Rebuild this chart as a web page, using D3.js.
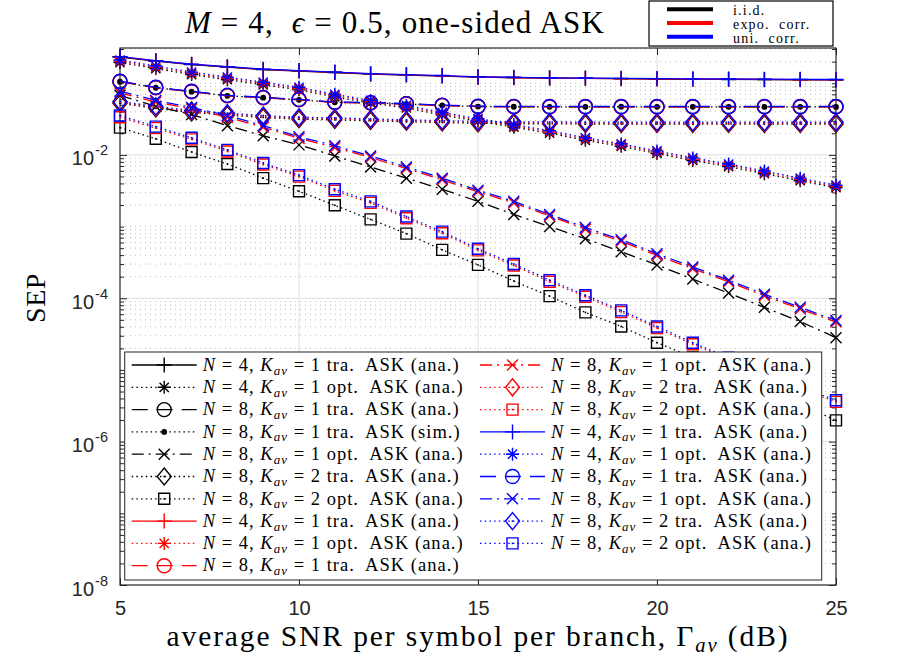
<!DOCTYPE html>
<html>
<head>
<meta charset="utf-8">
<script src="https://cdn.jsdelivr.net/npm/d3@7"></script>
<style>
  html, body { margin: 0; padding: 0; background: #fff; }
  svg { display: block; }
  .serif { font-family: "Liberation Serif", "DejaVu Serif", serif; fill: #000; white-space: pre; }
  .tick-label { font-family: "Liberation Sans", Arial, sans-serif; fill: #262626; }
</style>
</head>
<body>
<div id="chart"></div>
<script>
const snr = [5, 6, 7, 8, 9, 10, 11, 12, 13, 14, 15, 16, 17, 18, 19, 20, 21, 22, 23, 24, 25];
const xTicks = [5, 10, 15, 20, 25];
const yTicks = [1e-8, 1e-6, 1e-4, 1e-2];

// i.i.d. branches (black)
const iidTra4 = [0.232, 0.204, 0.182, 0.168, 0.155, 0.148, 0.141, 0.134, 0.130, 0.126, 0.1215, 0.1196, 0.1178, 0.1167, 0.1157, 0.1143, 0.1135, 0.1128, 0.1122, 0.1116, 0.111];
const iidOpt4 = [0.194, 0.160, 0.132, 0.1118, 0.0950, 0.0808, 0.0644, 0.0530, 0.0451, 0.0360, 0.0295, 0.0244, 0.0201, 0.01596, 0.01316, 0.01047, 0.00835, 0.00687, 0.00547, 0.00436, 0.00348];
const iidTra8 = [0.1055, 0.0870, 0.0765, 0.0672, 0.0630, 0.0590, 0.0542, 0.0532, 0.0516, 0.0491, 0.0474, 0.0471, 0.0470, 0.0470, 0.0470, 0.0470, 0.0470, 0.0470, 0.0470, 0.0470, 0.0470];
const iidSim8 = [0.1048, 0.0865, 0.0762, 0.0668, 0.0628, 0.0587, 0.0541, 0.0530, 0.0514, 0.0490, 0.0473, 0.0470, 0.0469, 0.0469, 0.0470, 0.0468, 0.0469, 0.0468, 0.0467, 0.0468, 0.0467];
const iidOpt8 = [0.0678, 0.0475, 0.0366, 0.0256, 0.0185, 0.0138, 0.00968, 0.00678, 0.00474, 0.00332, 0.00225, 0.00148, 0.00100, 0.000678, 0.000445, 0.000292, 0.000185, 0.000118, 7.47e-5, 4.74e-5, 2.82e-5];
const iidTra8K2 = [0.0525, 0.0447, 0.0392, 0.0359, 0.0333, 0.0315, 0.0309, 0.0299, 0.0290, 0.0283, 0.0276, 0.0273, 0.0271, 0.0270, 0.0270, 0.0270, 0.0270, 0.0270, 0.0270, 0.0270, 0.0270];
const iidOpt8K2 = [0.0240, 0.0168, 0.0110, 0.00747, 0.00474, 0.00311, 0.00198, 0.00126, 0.000797, 0.000474, 0.000292, 0.000174, 0.000107, 6.35e-5, 4.04e-5, 2.40e-5, 1.50e-5, 9.37e-6, 5.58e-6, 3.32e-6, 1.98e-6];

// exponential correlation (red)
const expoTra4 = [0.233, 0.205, 0.183, 0.169, 0.156, 0.149, 0.142, 0.135, 0.131, 0.127, 0.122, 0.120, 0.118, 0.117, 0.116, 0.115, 0.114, 0.1135, 0.113, 0.1124, 0.1118];
const expoOpt4 = [0.203, 0.167, 0.137, 0.1166, 0.0992, 0.0843, 0.0672, 0.0553, 0.0470, 0.0375, 0.0308, 0.0254, 0.0209, 0.01666, 0.01373, 0.01092, 0.00872, 0.00717, 0.00571, 0.00455, 0.00363];
const expoTra8 = [0.1052, 0.0866, 0.0760, 0.0668, 0.0626, 0.0587, 0.0538, 0.0528, 0.0512, 0.0488, 0.0471, 0.0468, 0.0467, 0.0467, 0.0467, 0.0467, 0.0467, 0.0467, 0.0467, 0.0467, 0.0467];
const expoOpt8 = [0.0733, 0.0547, 0.0436, 0.0336, 0.0243, 0.0170, 0.0127, 0.00920, 0.00644, 0.00450, 0.00305, 0.00214, 0.00141, 0.000920, 0.000623, 0.000396, 0.000259, 0.000170, 0.000108, 7.10e-5, 4.66e-5];
const expoTra8K2 = [0.0541, 0.0461, 0.0404, 0.0371, 0.0343, 0.0325, 0.0319, 0.0308, 0.0299, 0.0292, 0.0285, 0.0281, 0.0279, 0.0278, 0.0278, 0.0278, 0.0278, 0.0278, 0.0278, 0.0278, 0.0278];
const expoOpt8K2 = [0.0336, 0.0236, 0.01648, 0.01117, 0.00733, 0.00497, 0.00315, 0.00214, 0.00131, 0.000808, 0.000466, 0.000286, 0.000170, 0.000105, 6.44e-5, 3.84e-5, 2.28e-5, 1.41e-5, 8.62e-6, 5.47e-6, 3.59e-6];

// uniform correlation (blue)
const uniTra4 = [0.235, 0.206, 0.184, 0.170, 0.157, 0.150, 0.143, 0.136, 0.132, 0.128, 0.123, 0.121, 0.119, 0.118, 0.117, 0.116, 0.1152, 0.1145, 0.1138, 0.1132, 0.1127];
const uniOpt4 = [0.211, 0.174, 0.143, 0.1215, 0.1033, 0.0878, 0.0700, 0.0576, 0.0490, 0.0391, 0.0321, 0.0265, 0.0218, 0.01735, 0.0143, 0.01138, 0.00908, 0.00747, 0.00595, 0.00474, 0.00378];
const uniTra8 = [0.1067, 0.0878, 0.0771, 0.0678, 0.0635, 0.0595, 0.0546, 0.0536, 0.0520, 0.0495, 0.0478, 0.0475, 0.0474, 0.0474, 0.0474, 0.0474, 0.0474, 0.0474, 0.0474, 0.0474, 0.0474];
const uniOpt8 = [0.0772, 0.0576, 0.0459, 0.0354, 0.0256, 0.0179, 0.0134, 0.00968, 0.00678, 0.00474, 0.00321, 0.00225, 0.00148, 0.000968, 0.000656, 0.000417, 0.000273, 0.000179, 0.000114, 7.47e-5, 4.90e-5];
const uniTra8K2 = [0.0558, 0.0475, 0.0417, 0.0382, 0.0354, 0.0335, 0.0329, 0.0318, 0.0308, 0.0301, 0.0294, 0.0290, 0.0288, 0.0287, 0.0287, 0.0287, 0.0287, 0.0287, 0.0287, 0.0287, 0.0287];
const uniOpt8K2 = [0.0354, 0.0248, 0.01735, 0.01176, 0.00772, 0.00523, 0.00332, 0.00225, 0.00138, 0.00085, 0.00049, 0.000301, 0.000179, 0.00011, 6.78e-5, 4.04e-5, 2.40e-5, 1.48e-5, 9.07e-6, 5.76e-6, 3.78e-6];

const corrLabels = ["i.i.d.", "expo. corr.", "uni. corr."];
const schemeLabels = {
  tra4: "N = 4, K_av = 1 tra.  ASK (ana.)",
  opt4: "N = 4, K_av = 1 opt.  ASK (ana.)",
  tra8: "N = 8, K_av = 1 tra.  ASK (ana.)",
  sim8: "N = 8, K_av = 1 tra.  ASK (sim.)",
  opt8: "N = 8, K_av = 1 opt.  ASK (ana.)",
  tra8k2: "N = 8, K_av = 2 tra.  ASK (ana.)",
  opt8k2: "N = 8, K_av = 2 opt.  ASK (ana.)",
};

// plotting order = legend order
const seriesList = [
  ["iid", "tra4", iidTra4], ["iid", "opt4", iidOpt4], ["iid", "tra8", iidTra8], ["iid", "sim8", iidSim8],
  ["iid", "opt8", iidOpt8], ["iid", "tra8k2", iidTra8K2], ["iid", "opt8k2", iidOpt8K2],
  ["expo", "tra4", expoTra4], ["expo", "opt4", expoOpt4], ["expo", "tra8", expoTra8],
  ["expo", "opt8", expoOpt8], ["expo", "tra8k2", expoTra8K2], ["expo", "opt8k2", expoOpt8K2],
  ["uni", "tra4", uniTra4], ["uni", "opt4", uniOpt4], ["uni", "tra8", uniTra8],
  ["uni", "opt8", uniOpt8], ["uni", "tra8k2", uniTra8K2], ["uni", "opt8k2", uniOpt8K2],
];

const corrColor = { iid: "#000000", expo: "#ff0000", uni: "#0000ff" };
const schemeStyle = {
  tra4: { marker: "plus", dash: null },
  opt4: { marker: "star", dash: "dot" },
  tra8: { marker: "circle", dash: "dash" },
  sim8: { marker: "point", dash: "dot" },
  opt8: { marker: "cross", dash: "dashdot" },
  tra8k2: { marker: "diamond", dash: "dot" },
  opt8k2: { marker: "square", dash: "dot" },
};
const dashArrays = { dot: "1.5,3.2", dash: "16,9", dashdot: "12,5,2,5" };

class SepChart {
  constructor({ el, series }) {
    this.el = el;
    this.series = series.map(([corr, scheme, values]) => ({ corr, scheme, values, label: schemeLabels[scheme] }));
    this.setup();
    this.scaffold();
    this.render();
  }

  setup() {
    this.width = 920;
    this.height = 658;
    this.marginTop = 48;
    this.marginRight = 84;
    this.marginBottom = 73;
    this.marginLeft = 120;
    this.axisColor = "#262626";
    this.majorTick = 7;
    this.minorTick = 4;

    this.x = d3.scaleLinear().domain([5, 25]).range([this.marginLeft, this.width - this.marginRight]);
    this.y = d3.scaleLog().domain([1e-8, 0.31]).range([this.height - this.marginBottom, this.marginTop]);

    this.minorY = [];
    for (let e = -8; e <= -1; e++) {
      for (let m = 1; m <= 9; m++) {
        const v = m * Math.pow(10, e);
        if (v > 1e-8 && v < 0.31 && !(m === 1 && e % 2 === 0)) this.minorY.push(v);
      }
    }

    this.markerPath = (type) => {
      switch (type) {
        case "plus":
          return "M-7.5,0H7.5M0,-7.5V7.5";
        case "star":
          return "M-6.5,0H6.5M0,-6.5V6.5M-4.6,-4.6L4.6,4.6M-4.6,4.6L4.6,-4.6";
        case "cross":
          return "M-5.5,-5.5L5.5,5.5M-5.5,5.5L5.5,-5.5";
        case "circle":
          return "M7,0A7,7 0 1,1 -7,0A7,7 0 1,1 7,0Z";
        case "diamond":
          return "M0,-8.5L7,0L0,8.5L-7,0Z";
        case "square":
          return "M-5.5,-5.5H5.5V5.5H-5.5Z";
        case "point":
          return "M2.2,0A2.2,2.2 0 1,1 -2.2,0A2.2,2.2 0 1,1 2.2,0Z";
        default:
          return "";
      }
    };
  }

  scaffold() {
    this.svg = d3.select(this.el).append("svg").attr("width", this.width).attr("height", this.height);
    this.gridG = this.svg.append("g");
    this.axisG = this.svg.append("g");
    this.seriesG = this.svg.append("g");
    this.legendG = this.svg.append("g");
    this.keyG = this.svg.append("g");
    this.labelsG = this.svg.append("g");
  }

  render() {
    this.renderGrid();
    this.renderAxes();
    this.renderSeries();
    this.renderLegend();
    this.renderKey();
    this.renderLabels();
  }

  renderGrid() {
    const [x0, x1] = this.x.range();
    const [y0, y1] = this.y.range();
    this.gridG
      .selectAll(".minor")
      .data(this.minorY)
      .join("line")
      .attr("x1", x0)
      .attr("x2", x1)
      .attr("y1", (d) => this.y(d))
      .attr("y2", (d) => this.y(d))
      .attr("stroke", "#bcbcbc")
      .attr("stroke-dasharray", "1,4");
    this.gridG
      .selectAll(".major-y")
      .data(yTicks.slice(1))
      .join("line")
      .attr("x1", x0)
      .attr("x2", x1)
      .attr("y1", (d) => this.y(d))
      .attr("y2", (d) => this.y(d))
      .attr("stroke", "#dedede");
    this.gridG
      .selectAll(".major-x")
      .data(xTicks.slice(1, -1))
      .join("line")
      .attr("x1", (d) => this.x(d))
      .attr("x2", (d) => this.x(d))
      .attr("y1", y0)
      .attr("y2", y1)
      .attr("stroke", "#dedede");
  }

  renderAxes() {
    const [x0, x1] = this.x.range();
    const [y0, y1] = this.y.range();
    const clean = (g) => g.call((g) => g.select(".domain").remove()).selectAll("line").attr("stroke", this.axisColor);

    this.axisG
      .append("g")
      .attr("transform", `translate(0,${y0})`)
      .call(d3.axisBottom(this.x).tickValues(xTicks).tickSize(-this.majorTick).tickSizeOuter(0).tickPadding(16))
      .call(clean)
      .call((g) => g.selectAll("text").attr("class", "tick-label").attr("font-size", 20).attr("fill", this.axisColor));
    this.axisG
      .append("g")
      .attr("transform", `translate(0,${y1})`)
      .call(d3.axisTop(this.x).tickValues(xTicks).tickSize(-this.majorTick).tickSizeOuter(0).tickFormat(""))
      .call(clean);

    const yLeft = this.axisG
      .append("g")
      .attr("transform", `translate(${x0},0)`)
      .call(d3.axisLeft(this.y).tickValues(yTicks).tickSize(-this.majorTick).tickSizeOuter(0).tickPadding(12))
      .call(clean);
    yLeft
      .selectAll("text")
      .attr("class", "tick-label")
      .attr("font-size", 20)
      .attr("fill", this.axisColor)
      .attr("dy", null)
      .text(null)
      .each(function (d) {
        const t = d3.select(this);
        t.append("tspan").attr("dy", 10).text("10");
        t.append("tspan").attr("dy", -10).attr("dx", 1).attr("font-size", 14.5).text(String(Math.round(Math.log10(d))));
      });
    this.axisG
      .append("g")
      .attr("transform", `translate(${x0},0)`)
      .call(d3.axisLeft(this.y).tickValues(this.minorY).tickSize(-this.minorTick).tickSizeOuter(0).tickFormat(""))
      .call(clean);
    this.axisG
      .append("g")
      .attr("transform", `translate(${x1},0)`)
      .call(d3.axisRight(this.y).tickValues(yTicks).tickSize(-this.majorTick).tickSizeOuter(0).tickFormat(""))
      .call(clean);
    this.axisG
      .append("g")
      .attr("transform", `translate(${x1},0)`)
      .call(d3.axisRight(this.y).tickValues(this.minorY).tickSize(-this.minorTick).tickSizeOuter(0).tickFormat(""))
      .call(clean);

    this.axisG
      .append("rect")
      .attr("x", x0)
      .attr("y", y1)
      .attr("width", x1 - x0)
      .attr("height", y0 - y1)
      .attr("fill", "none")
      .attr("stroke", this.axisColor)
      .attr("stroke-width", 1.2);
  }

  drawMarker(g, type, color) {
    g.append("path")
      .attr("d", this.markerPath(type))
      .attr("fill", type === "point" ? color : "none")
      .attr("stroke", color)
      .attr("stroke-width", 1.4);
    if (type === "square" || type === "diamond") {
      g.append("rect").attr("x", -0.8).attr("y", -0.8).attr("width", 1.6).attr("height", 1.6).attr("fill", color);
    }
  }

  renderSeries() {
    const line = d3
      .line()
      .x((_, i) => this.x(snr[i]))
      .y((d) => this.y(d));
    const self = this;

    this.series.forEach((s) => {
      const color = corrColor[s.corr];
      const style = schemeStyle[s.scheme];
      const g = this.seriesG.append("g");
      g.append("path")
        .attr("d", line(s.values))
        .attr("fill", "none")
        .attr("stroke", color)
        .attr("stroke-width", 1.3)
        .attr("stroke-dasharray", style.dash ? dashArrays[style.dash] : null);
      g.selectAll(".mk")
        .data(s.values)
        .join("g")
        .attr("transform", (d, i) => `translate(${this.x(snr[i])},${this.y(d)})`)
        .each(function () {
          self.drawMarker(d3.select(this), style.marker, color);
        });
    });
  }

  appendLabel(text, label) {
    const [, n, k, rest] = label.match(/^N = (\d), K_av = (\d) (.*)$/);
    text.append("tspan").attr("font-style", "italic").text("N");
    text.append("tspan").text(` = ${n}, `);
    text.append("tspan").attr("font-style", "italic").text("K");
    text.append("tspan").attr("font-style", "italic").attr("font-size", "0.7em").attr("dy", "0.3em").text("av");
    text.append("tspan").attr("dy", "-0.21em").text(` = ${k} ${rest}`);
  }

  // grow the font up to maxFont, then spread letters to reach the target width
  fit(sel, target, maxFont) {
    const fs = parseFloat(sel.attr("font-size"));
    const w = sel.node().getComputedTextLength();
    sel.attr("font-size", Math.min(maxFont, (fs * target) / w));
    const w2 = sel.node().getComputedTextLength();
    const n = sel.node().textContent.length;
    if (w2 < target) sel.attr("letter-spacing", (target - w2) / n);
  }

  renderLegend() {
    const box = { x: 124.7, y: 352, w: 697, h: 228 };
    const rowH = 22.3;
    const colX = [131.7, 480];
    const sampleW = 65;

    this.legendG
      .append("rect")
      .attr("x", box.x)
      .attr("y", box.y)
      .attr("width", box.w)
      .attr("height", box.h)
      .attr("fill", "#fff")
      .attr("stroke", this.axisColor)
      .attr("stroke-width", 1);

    const texts = [];
    this.series.forEach((s, i) => {
      const col = i < 10 ? 0 : 1;
      const row = col ? i - 10 : i;
      const color = corrColor[s.corr];
      const style = schemeStyle[s.scheme];
      const g = this.legendG.append("g").attr("transform", `translate(${colX[col]},${box.y + 13 + row * rowH})`);
      g.append("line")
        .attr("x1", 0)
        .attr("x2", sampleW)
        .attr("stroke", color)
        .attr("stroke-width", 1.3)
        .attr("stroke-dasharray", style.dash ? dashArrays[style.dash] : null);
      this.drawMarker(g.append("g").attr("transform", `translate(${sampleW / 2},0)`), style.marker, color);
      const t = g.append("text").attr("class", "serif").attr("x", sampleW + 6).attr("y", 5.7).attr("font-size", 16);
      this.appendLabel(t, s.label);
      texts.push(t);
    });
    const widest = d3.max(texts, (t) => t.node().getComputedTextLength());
    const fs = Math.min(18.5, (16 * 261) / widest);
    texts.forEach((t) => t.attr("font-size", fs));
    const widest2 = d3.max(texts, (t) => t.node().getComputedTextLength());
    const chars = d3.max(texts, (t) => t.node().textContent.length);
    texts.forEach((t) => t.attr("letter-spacing", Math.max(0, (261 - widest2) / chars)));
  }

  renderKey() {
    const box = { x: 649, y: 1, w: 184, h: 45 };
    this.keyG
      .append("rect")
      .attr("x", box.x)
      .attr("y", box.y)
      .attr("width", box.w)
      .attr("height", box.h)
      .attr("fill", "#fff")
      .attr("stroke", "#000")
      .attr("stroke-width", 1.2);
    const rows = this.keyG
      .selectAll(".key")
      .data(corrLabels)
      .join("g")
      .attr("transform", (_, i) => `translate(${box.x + 18},${box.y + 8.3 + i * 13.7})`);
    rows
      .append("line")
      .attr("x1", 0)
      .attr("x2", 46)
      .attr("stroke", (_, i) => Object.values(corrColor)[i])
      .attr("stroke-width", 4);
    rows
      .append("text")
      .attr("class", "serif")
      .attr("x", 66)
      .attr("y", 6)
      .attr("font-size", 14)
      .attr("letter-spacing", 1.2)
      .text((d) => d.replace(". ", ".  "));
  }

  renderLabels() {
    const title = this.labelsG.append("text").attr("class", "serif").attr("x", 395).attr("y", 33).attr("text-anchor", "middle").attr("font-size", 25);
    title.append("tspan").attr("font-style", "italic").text("M");
    title.append("tspan").text(" = 4,  ");
    title.append("tspan").attr("font-style", "italic").text("\u03f5");
    title.append("tspan").text(" = 0.5, one-sided ASK");
    this.fit(title, 420, 31);

    const xLabel = this.labelsG
      .append("text")
      .attr("class", "serif")
      .attr("x", d3.mean(this.x.range()))
      .attr("y", 646)
      .attr("text-anchor", "middle")
      .attr("font-size", 25);
    xLabel.append("tspan").text("average SNR per symbol per branch, \u0393");
    xLabel.append("tspan").attr("font-style", "italic").attr("font-size", "0.7em").attr("dy", "0.3em").text("av");
    xLabel.append("tspan").attr("dy", "-0.21em").text(" (dB)");
    this.fit(xLabel, 623, 29.5);

    const yLabel = this.labelsG
      .append("text")
      .attr("class", "serif")
      .attr("transform", "translate(45,298) rotate(-90)")
      .attr("text-anchor", "middle")
      .attr("font-size", 25)
      .text("SEP");
    this.fit(yLabel, 50, 28);
  }
}

const chart = new SepChart({
  el: document.getElementById("chart"),
  series: seriesList,
});
</script>
</body>
</html>
